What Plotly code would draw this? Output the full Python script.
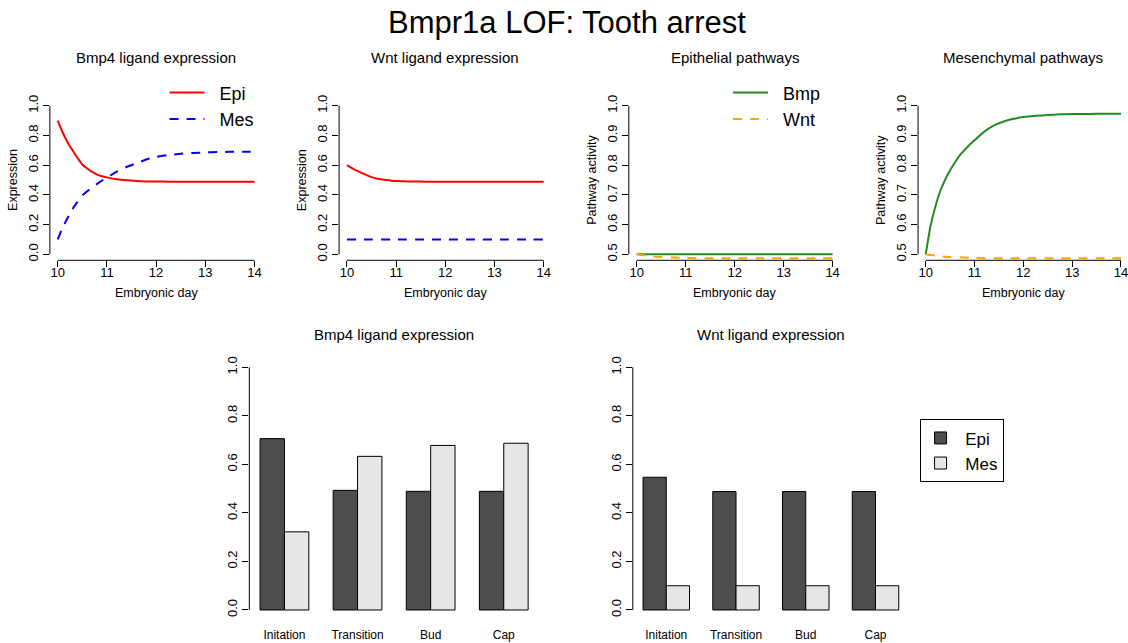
import plotly.graph_objects as go

# ---------------- data ----------------
days = [10, 10.1, 10.2, 10.3, 10.4, 10.5, 10.6, 10.7, 10.8, 10.9, 11,
        11.2, 11.4, 11.6, 11.8, 12, 12.25, 12.5, 12.75, 13, 13.25, 13.5, 13.75, 14]

bmp4_epi = [0.900, 0.820, 0.755, 0.700, 0.650, 0.605, 0.578, 0.555, 0.537, 0.526, 0.518,
            0.505, 0.498, 0.494, 0.491, 0.490, 0.489, 0.489, 0.488, 0.488, 0.488, 0.488, 0.488, 0.488]
bmp4_mes = [0.100, 0.180, 0.245, 0.305, 0.352, 0.396, 0.425, 0.452, 0.474, 0.497, 0.516,
            0.556, 0.588, 0.613, 0.638, 0.656, 0.668, 0.677, 0.682, 0.686, 0.688, 0.690, 0.690, 0.691]

wnt_epi = [0.600, 0.580, 0.563, 0.548, 0.533, 0.520, 0.511, 0.505, 0.500, 0.496, 0.493,
           0.491, 0.490, 0.489, 0.489, 0.489, 0.488, 0.488, 0.488, 0.488, 0.488, 0.488, 0.488, 0.488]
wnt_mes = [0.100, 0.100, 0.100, 0.100, 0.100, 0.100, 0.100, 0.100, 0.100, 0.100, 0.100,
           0.100, 0.100, 0.100, 0.100, 0.100, 0.100, 0.100, 0.100, 0.100, 0.100, 0.100, 0.100, 0.100]

epi_bmp_path = [0.500, 0.500, 0.500, 0.500, 0.500, 0.500, 0.500, 0.500, 0.500, 0.500, 0.500,
                0.500, 0.500, 0.500, 0.500, 0.500, 0.500, 0.500, 0.500, 0.500, 0.500, 0.500, 0.500, 0.500]
epi_wnt_path = [0.500, 0.498, 0.496, 0.494, 0.492, 0.491, 0.490, 0.489, 0.489, 0.488, 0.488,
                0.487, 0.487, 0.487, 0.487, 0.487, 0.487, 0.487, 0.487, 0.487, 0.487, 0.487, 0.487, 0.487]

mes_bmp_path = [0.500, 0.597, 0.662, 0.714, 0.752, 0.783, 0.810, 0.834, 0.852, 0.869, 0.884,
                0.913, 0.934, 0.947, 0.956, 0.962, 0.966, 0.969, 0.971, 0.972, 0.972, 0.973, 0.973, 0.973]
mes_wnt_path = [0.500, 0.498, 0.496, 0.494, 0.492, 0.491, 0.490, 0.489, 0.489, 0.488, 0.488,
                0.487, 0.487, 0.487, 0.487, 0.487, 0.487, 0.487, 0.487, 0.487, 0.487, 0.487, 0.487, 0.487]

stages = ["Initation", "Transition", "Bud", "Cap"]
bar_bmp4_epi = [0.706, 0.493, 0.489, 0.489]
bar_bmp4_mes = [0.322, 0.633, 0.678, 0.687]
bar_wnt_epi = [0.547, 0.488, 0.488, 0.488]
bar_wnt_mes = [0.100, 0.100, 0.100, 0.100]

day_ticks = [10, 11, 12, 13, 14]
expr_ticks = [0.0, 0.2, 0.4, 0.6, 0.8, 1.0]
path_ticks = [0.5, 0.6, 0.7, 0.8, 0.9, 1.0]

# ---------------- layout helpers ----------------
W, H = 1128, 643
FONT = "Liberation Sans, Arial, Helvetica, sans-serif"
NB = "\u00a0"


def xd(a, b):
    return [a / W, min(b / W, 1.0)]


def yd(top, bottom):
    return [1 - bottom / H, 1 - top / H]


def sfx(n):
    return "" if n == 1 else str(n)


RED, BLUE = "#FF0000", "#0000FF"
GREEN, ORANGE = "#228B22", "#FFA500"
DARK, LIGHT = "#4D4D4D", "#E6E6E6"
DASH = "9px,8px"

fig = go.Figure()

# line panels
line_panels = [
    (1, [(bmp4_epi, "Epi", RED, "solid"), (bmp4_mes, "Mes", BLUE, DASH)], "legend"),
    (2, [(wnt_epi, "Epi", RED, "solid"), (wnt_mes, "Mes", BLUE, DASH)], None),
    (3, [(epi_bmp_path, "Bmp", GREEN, "solid"), (epi_wnt_path, "Wnt", ORANGE, DASH)], "legend2"),
    (4, [(mes_bmp_path, "Bmp", GREEN, "solid"), (mes_wnt_path, "Wnt", ORANGE, DASH)], None),
]
for idx, series, leg in line_panels:
    for vals, name, col, dash in series:
        fig.add_trace(go.Scatter(
            x=days, y=vals, mode="lines", name=NB + NB + name,
            line=dict(color=col, width=2, dash=dash, shape="spline", smoothing=0.6),
            xaxis="x" + sfx(idx), yaxis="y" + sfx(idx),
            showlegend=leg is not None,
            legend=leg if leg else "legend",
            hoverinfo="skip",
        ))

# bar panels
bar_line = dict(color="black", width=1)
fig.add_trace(go.Bar(x=stages, y=bar_bmp4_epi, name=NB + "Epi", marker=dict(color=DARK, line=bar_line),
                     xaxis="x5", yaxis="y5", showlegend=False, legend="legend3"))
fig.add_trace(go.Bar(x=stages, y=bar_bmp4_mes, name=NB + "Mes", marker=dict(color=LIGHT, line=bar_line),
                     xaxis="x5", yaxis="y5", showlegend=False, legend="legend3"))
fig.add_trace(go.Bar(x=stages, y=bar_wnt_epi, name=NB + "Epi", marker=dict(color=DARK, line=bar_line),
                     xaxis="x6", yaxis="y6", showlegend=True, legend="legend3"))
fig.add_trace(go.Bar(x=stages, y=bar_wnt_mes, name=NB + "Mes", marker=dict(color=LIGHT, line=bar_line),
                     xaxis="x6", yaxis="y6", showlegend=True, legend="legend3"))

TOP = (95.7, 257.7)
BOT = (355.9, 620.5)
top_x = [(50, 263), (340, 553), (630.5, 842.7), (920.5, 1128)]
day_ranges = [[9.84, 14.16], [9.84, 14.16], [9.84, 14.16], [9.843, 9.843 + (1128 - 920.5) / 48.95]]
y_ranges = [[-0.04, 1.04], [-0.04, 1.04], [0.48, 1.02], [0.48, 1.02]]
y_ticks = [expr_ticks, expr_ticks, path_ticks, path_ticks]
y_titles = ["Expression", "Expression", "Pathway activity", "Pathway activity"]
titles = ["Bmp4 ligand expression", "Wnt ligand expression", "Epithelial pathways", "Mesenchymal pathways"]

tick_font = dict(family=FONT, size=13, color="black")
common_axis = dict(showgrid=False, zeroline=False, showline=False, ticks="outside",
                   ticklen=6, tickwidth=1, tickcolor="black", tickfont=tick_font, fixedrange=True)

layout = dict(
    width=W, height=H, margin=dict(l=0, r=0, t=0, b=0),
    paper_bgcolor="white", plot_bgcolor="white",
    font=dict(family=FONT, color="black"),
    barmode="group", bargap=1 / 3, bargroupgap=0,
    showlegend=True,
)

shapes = []
annotations = []
for i in range(4):
    n = i + 1
    s = sfx(n)
    layout[f"xaxis{n}"] = dict(common_axis, domain=xd(*top_x[i]), range=day_ranges[i],
                               tickvals=day_ticks, ticktext=[str(t) for t in day_ticks],
                               ticklabelstandoff=-6, ticklabeloverflow="allow",
                               anchor="y" + s)
    layout[f"yaxis{n}"] = dict(common_axis, domain=yd(*TOP), range=y_ranges[i],
                               tickvals=y_ticks[i], ticktext=[f"{t:.1f}" for t in y_ticks[i]],
                               tickangle=-90, anchor="x" + s)
    shapes.append(dict(type="line", xref="x" + s, yref=f"y{s} domain",
                       x0=day_ticks[0], x1=day_ticks[-1], y0=0, y1=0,
                       line=dict(color="black", width=1)))
    shapes.append(dict(type="line", xref=f"x{s} domain", yref="y" + s,
                       x0=0, x1=0, y0=y_ticks[i][0], y1=y_ticks[i][-1],
                       line=dict(color="black", width=1)))
    annotations.append(dict(text=titles[i], xref="x" + s, yref=f"y{s} domain",
                            x=12, y=1, yshift=42.5, showarrow=False,
                            xanchor="center", yanchor="middle",
                            font=dict(family=FONT, size=15, color="black")))
    annotations.append(dict(text="Embryonic day", xref="x" + s, yref=f"y{s} domain",
                            x=12, y=0, yshift=-33, showarrow=False,
                            xanchor="center", yanchor="middle",
                            font=dict(family=FONT, size=12.5, color="black")))
    annotations.append(dict(text=y_titles[i], xref=f"x{s} domain", yref=f"y{s} domain",
                            x=0, y=0.5, xshift=-37, showarrow=False, textangle=-90,
                            xanchor="center", yanchor="middle",
                            font=dict(family=FONT, size=12.5, color="black")))

bar_x = [(250, 540.3), (634.5, 911.4)]
bar_titles = ["Bmp4 ligand expression", "Wnt ligand expression"]
for j in range(2):
    n = 5 + j
    layout[f"xaxis{n}"] = dict(showgrid=False, zeroline=False, showline=False, ticks="",
                               tickfont=dict(family=FONT, size=12, color="black"),
                               domain=xd(*bar_x[j]), range=[-0.48, 3.48], type="category",
                               ticklabelstandoff=6, anchor=f"y{n}", fixedrange=True)
    layout[f"yaxis{n}"] = dict(common_axis, domain=yd(*BOT), range=[-0.04, 1.04],
                               tickvals=expr_ticks, ticktext=[f"{t:.1f}" for t in expr_ticks],
                               tickangle=-90, anchor=f"x{n}")
    shapes.append(dict(type="line", xref=f"x{n} domain", yref=f"y{n}",
                       x0=0, x1=0, y0=expr_ticks[0], y1=expr_ticks[-1],
                       line=dict(color="black", width=1)))
    annotations.append(dict(text=bar_titles[j], xref=f"x{n} domain", yref=f"y{n} domain",
                            x=0.5, y=1, yshift=23, showarrow=False,
                            xanchor="center", yanchor="middle",
                            font=dict(family=FONT, size=15, color="black")))

annotations.append(dict(text="Bmpr1a LOF: Tooth arrest", xref="paper", yref="paper",
                        x=569 / W, y=1 - 18 / H, showarrow=False,
                        xanchor="center", yanchor="middle",
                        font=dict(family=FONT, size=31, color="black")))

layout["legend"] = dict(x=165 / W, y=1 - 70 / H, xanchor="left", yanchor="top",
                        bgcolor="rgba(0,0,0,0)", borderwidth=0,
                        font=dict(family=FONT, size=18, color="black"), itemwidth=35)
layout["legend2"] = dict(x=730 / W, y=1 - 70 / H, xanchor="left", yanchor="top",
                         bgcolor="rgba(0,0,0,0)", borderwidth=0,
                         font=dict(family=FONT, size=18, color="black"), itemwidth=35)
layout["legend3"] = dict(x=922 / W, y=1 - 418.3 / H, xanchor="left", yanchor="top",
                         bgcolor="white", bordercolor="black", borderwidth=1,
                         font=dict(family=FONT, size=17, color="black"))
layout["shapes"] = shapes
layout["annotations"] = annotations

fig.update_layout(**layout)
fig.write_html("out.html")
